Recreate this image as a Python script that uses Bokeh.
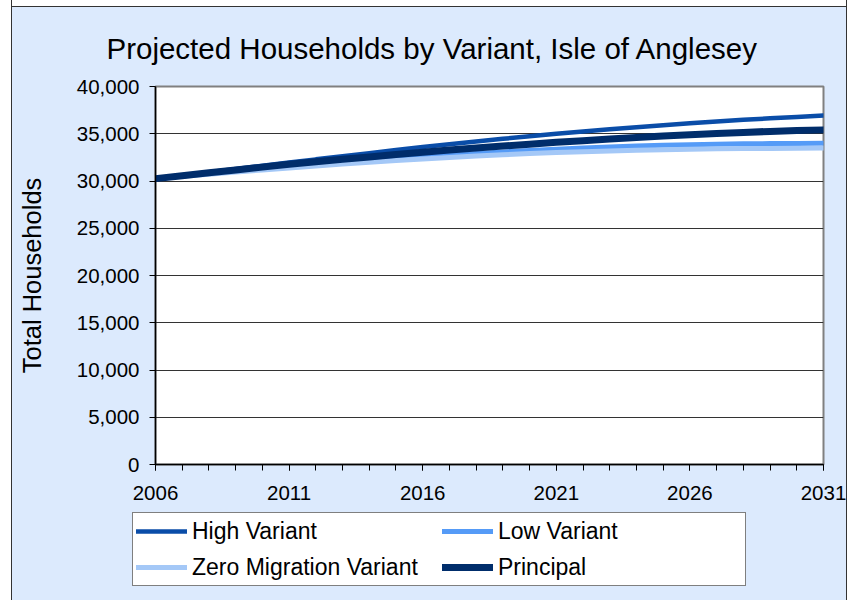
from bokeh.plotting import figure
from bokeh.layouts import column
from bokeh.models import Range1d, FixedTicker, NumeralTickFormatter, Legend, LegendItem
from bokeh.embed import file_html
from bokeh.resources import INLINE

years = list(range(2006, 2032))
high_variant = [30250, 30590, 30930, 31270, 31610, 31950, 32290, 32620, 32950, 33270,
                33590, 33890, 34180, 34460, 34730, 34990, 35240, 35470, 35690, 35900,
                36100, 36290, 36470, 36630, 36780, 36920]
low_variant = [30250, 30520, 30780, 31030, 31270, 31500, 31720, 31930, 32130, 32340,
               32550, 32740, 32920, 33080, 33230, 33370, 33500, 33610, 33700, 33780,
               33840, 33890, 33930, 33960, 33980, 34000]
zero_migration = [30250, 30490, 30720, 30950, 31170, 31380, 31590, 31790, 31980, 32160,
                  32330, 32490, 32640, 32780, 32900, 33010, 33100, 33180, 33250, 33310,
                  33360, 33400, 33430, 33450, 33470, 33480]
principal = [30250, 30560, 30870, 31170, 31470, 31770, 32040, 32300, 32550, 32800,
             33040, 33270, 33490, 33700, 33900, 34090, 34270, 34440, 34600, 34750,
             34890, 35020, 35140, 35250, 35340, 35410]
series_names = ["High Variant", "Low Variant", "Zero Migration Variant", "Principal"]
series_colors = ["#0A4DA8", "#559BF7", "#A4C8F7", "#002D6B"]
series_widths = [4.5, 5, 5, 7]
x_labels = [2006, 2011, 2016, 2021, 2026, 2031]
y_ticks = [0, 5000, 10000, 15000, 20000, 25000, 30000, 35000, 40000]

FONT = "Liberation Sans"
BG = "#DCEAFD"

p = figure(width=834, height=512, x_range=Range1d(2006, 2031), y_range=Range1d(0, 40000),
           output_backend="svg", toolbar_location=None,
           min_border_left=143, min_border_right=23, min_border_top=86, min_border_bottom=48)
p.border_fill_alpha = 0
p.background_fill_color = "white"
p.outline_line_color = "#808080"
p.outline_line_width = 2

p.title.text = "Projected Households by Variant, Isle of Anglesey"
p.title.text_font = FONT
p.title.text_font_size = "29.5px"
p.title.text_font_style = "normal"
p.title.text_color = "black"
p.title.align = "left"
p.title.offset = -49
p.title.text_line_height = 1.0
p.title.standoff = 44

all_series = [high_variant, low_variant, zero_migration, principal]
for vals, col, w in zip(all_series, series_colors, series_widths):
    p.line(years, vals, line_color=col, line_width=w, line_cap="round")

xa = p.xaxis[0]
xa.ticker = FixedTicker(ticks=x_labels, minor_ticks=years)
xa.major_tick_out = 6
xa.major_tick_in = 0
xa.minor_tick_out = 6
xa.minor_tick_in = 0
xa.axis_line_color = "black"
xa.axis_line_width = 1.5
xa.major_tick_line_color = "black"
xa.minor_tick_line_color = "black"
xa.major_label_text_font = FONT
xa.major_label_text_font_size = "20.5px"
xa.major_label_text_color = "black"
xa.major_label_standoff = 15

ya = p.yaxis[0]
ya.ticker = FixedTicker(ticks=y_ticks)
ya.formatter = NumeralTickFormatter(format="0,0")
ya.major_tick_out = 6
ya.major_tick_in = 0
ya.minor_tick_line_color = None
ya.axis_line_color = "black"
ya.axis_line_width = 1.5
ya.major_tick_line_color = "black"
ya.major_label_text_font = FONT
ya.major_label_text_font_size = "20.5px"
ya.major_label_text_color = "black"
ya.major_label_standoff = 10
ya.axis_label = "Total Households"
ya.axis_label_text_font = FONT
ya.axis_label_text_font_size = "25.5px"
ya.axis_label_text_font_style = "normal"
ya.axis_label_text_color = "black"
ya.axis_label_standoff = 28

p.xgrid.grid_line_color = None
p.ygrid.grid_line_color = "#333333"
p.ygrid.grid_line_width = 1

# legend panel below the chart (its renderers lie outside its visible range)
q = figure(width=834, height=88, x_range=Range1d(0, 1), y_range=Range1d(0, 1),
           output_backend="svg", toolbar_location=None, x_axis_type=None, y_axis_type=None,
           min_border_left=120, min_border_right=0, min_border_top=0, min_border_bottom=0,
           margin=(0, 0, 0, -23))
q.border_fill_alpha = 0
q.background_fill_alpha = 0
q.outline_line_color = None
q.xgrid.grid_line_color = None
q.ygrid.grid_line_color = None

items = []
for name, vals, col, w in zip(series_names, all_series, series_colors, series_widths):
    r = q.line(years, vals, line_color=col, line_width=w, line_cap="round")
    items.append(LegendItem(label=name, renderers=[r]))

legend = Legend(items=items, orientation="horizontal", ncols=2, location="top_left")
legend.label_text_font = FONT
legend.label_text_font_size = "23px"
legend.label_text_color = "black"
legend.glyph_width = 51
legend.glyph_height = 30
legend.label_height = 30
legend.label_width = 244
legend.label_standoff = 5
legend.spacing = 6
legend.padding = 3
legend.margin = 0
legend.border_line_color = "black"
legend.border_line_width = 1
legend.background_fill_color = "white"
legend.background_fill_alpha = 1
q.add_layout(legend)

layout = column(p, q, spacing=0, margin=(0, 0, 0, 12))
layout.styles = {
    "outline": "1px solid #333333",
    "background": "linear-gradient(to bottom, #ffffff 0px, #ffffff 6px, #333333 6px, "
                  "#333333 7px, " + BG + " 7px)",
}

open("out.html", "w").write(file_html(layout, INLINE))
